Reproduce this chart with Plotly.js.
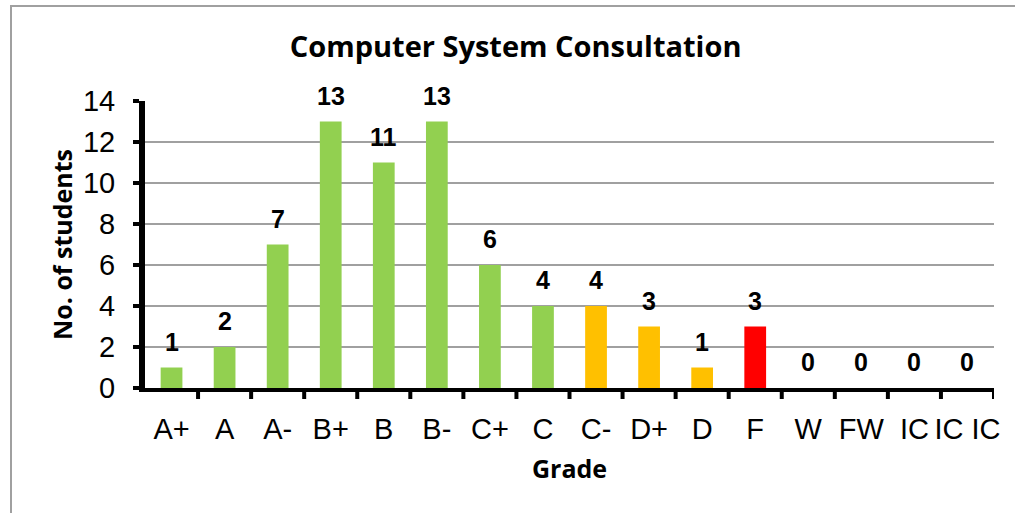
<!DOCTYPE html>
<html>
<head>
<meta charset="utf-8">
<script src="https://cdn.plot.ly/plotly-3.0.1.min.js"></script>
<style>
  html, body { margin: 0; padding: 0; background: #fff; overflow: hidden; }
  #chart { width: 1015px; height: 513px; }
  #frame { position: absolute; left: 10px; top: 5px; width: 1020px; height: 530px;
           border: 2px solid #a0a0a0; pointer-events: none; box-sizing: border-box; }
</style>
</head>
<body>
<div id="chart"></div>
<div id="frame"></div>
<script>
const grades = ["A+", "A", "A-", "B+", "B", "B-", "C+", "C", "C-", "D+", "D", "F", "W", "FW", "IC", "IC IC"];
const students = [1, 2, 7, 13, 11, 13, 6, 4, 4, 3, 1, 3, 0, 0, 0, 0];
const barColors = ["#92D050", "#92D050", "#92D050", "#92D050", "#92D050", "#92D050", "#92D050", "#92D050",
                   "#FFC000", "#FFC000", "#FFC000", "#FF0000", "#92D050", "#92D050", "#92D050", "#92D050"];
const yTicks = [0, 2, 4, 6, 8, 10, 12, 14];
const xIdx = grades.map((g, i) => i);

const trace = {
  type: "bar",
  x: xIdx,
  y: students,
  marker: { color: barColors },
  hoverinfo: "x+y"
};

const annotations = students.map((v, i) => ({
  x: i, y: v, xref: "x", yref: "y",
  text: String(v), showarrow: false,
  yanchor: "bottom", yshift: 10,
  font: { family: "Liberation Sans, Arial, sans-serif", size: 25, color: "#000", weight: "bold" }
}));

const boundaryTicks = xIdx.map(i => ({
  type: "line", xref: "x", yref: "paper",
  x0: i + 0.5, x1: i + 0.5,
  ysizemode: "pixel", yanchor: 0, y0: -2, y1: -11,
  line: { color: "#000", width: 4 }
}));

const layout = {
  width: 1015, height: 513,
  margin: { l: 145, r: 21, t: 100.5, b: 124.5 },
  paper_bgcolor: "#fff", plot_bgcolor: "#fff",
  showlegend: false,
  bargap: 0.59,
  title: {
    text: "Computer System Consultation",
    font: { family: "Open Sans, sans-serif", size: 29, color: "#000", weight: "bold" },
    x: 0.508, xref: "container", xanchor: "center",
    y: 0.908, yref: "container", yanchor: "middle"
  },
  xaxis: {
    type: "linear",
    range: [-0.5, 15.5],
    tickmode: "array",
    tickvals: xIdx,
    ticktext: grades,
    ticks: "",
    ticklabelstandoff: 12,
    showgrid: false,
    zeroline: false,
    showline: true, linecolor: "#000", linewidth: 4,
    tickfont: { family: "Liberation Sans, Arial, sans-serif", size: 29, color: "#000" },
    title: {
      text: "Grade",
      font: { family: "Open Sans, sans-serif", size: 25, color: "#000", weight: "bold" },
      standoff: 18
    },
    fixedrange: true
  },
  yaxis: {
    range: [0, 14],
    tickmode: "array",
    tickvals: yTicks,
    ticks: "outside", ticklen: 6, tickwidth: 4, tickcolor: "#000",
    ticklabelstandoff: 12,
    showgrid: true, gridcolor: "#a0a0a0", gridwidth: 1.5,
    zeroline: false,
    showline: true, linecolor: "#000", linewidth: 6,
    tickfont: { family: "Liberation Sans, Arial, sans-serif", size: 29, color: "#000" },
    title: {
      text: "No. of students",
      font: { family: "Open Sans, sans-serif", size: 25, color: "#000", weight: "bold" },
      standoff: 5
    },
    fixedrange: true
  },
  annotations: annotations,
  shapes: boundaryTicks
};

Plotly.newPlot("chart", [trace], layout, { displayModeBar: false, staticPlot: true });
</script>
</body>
</html>
